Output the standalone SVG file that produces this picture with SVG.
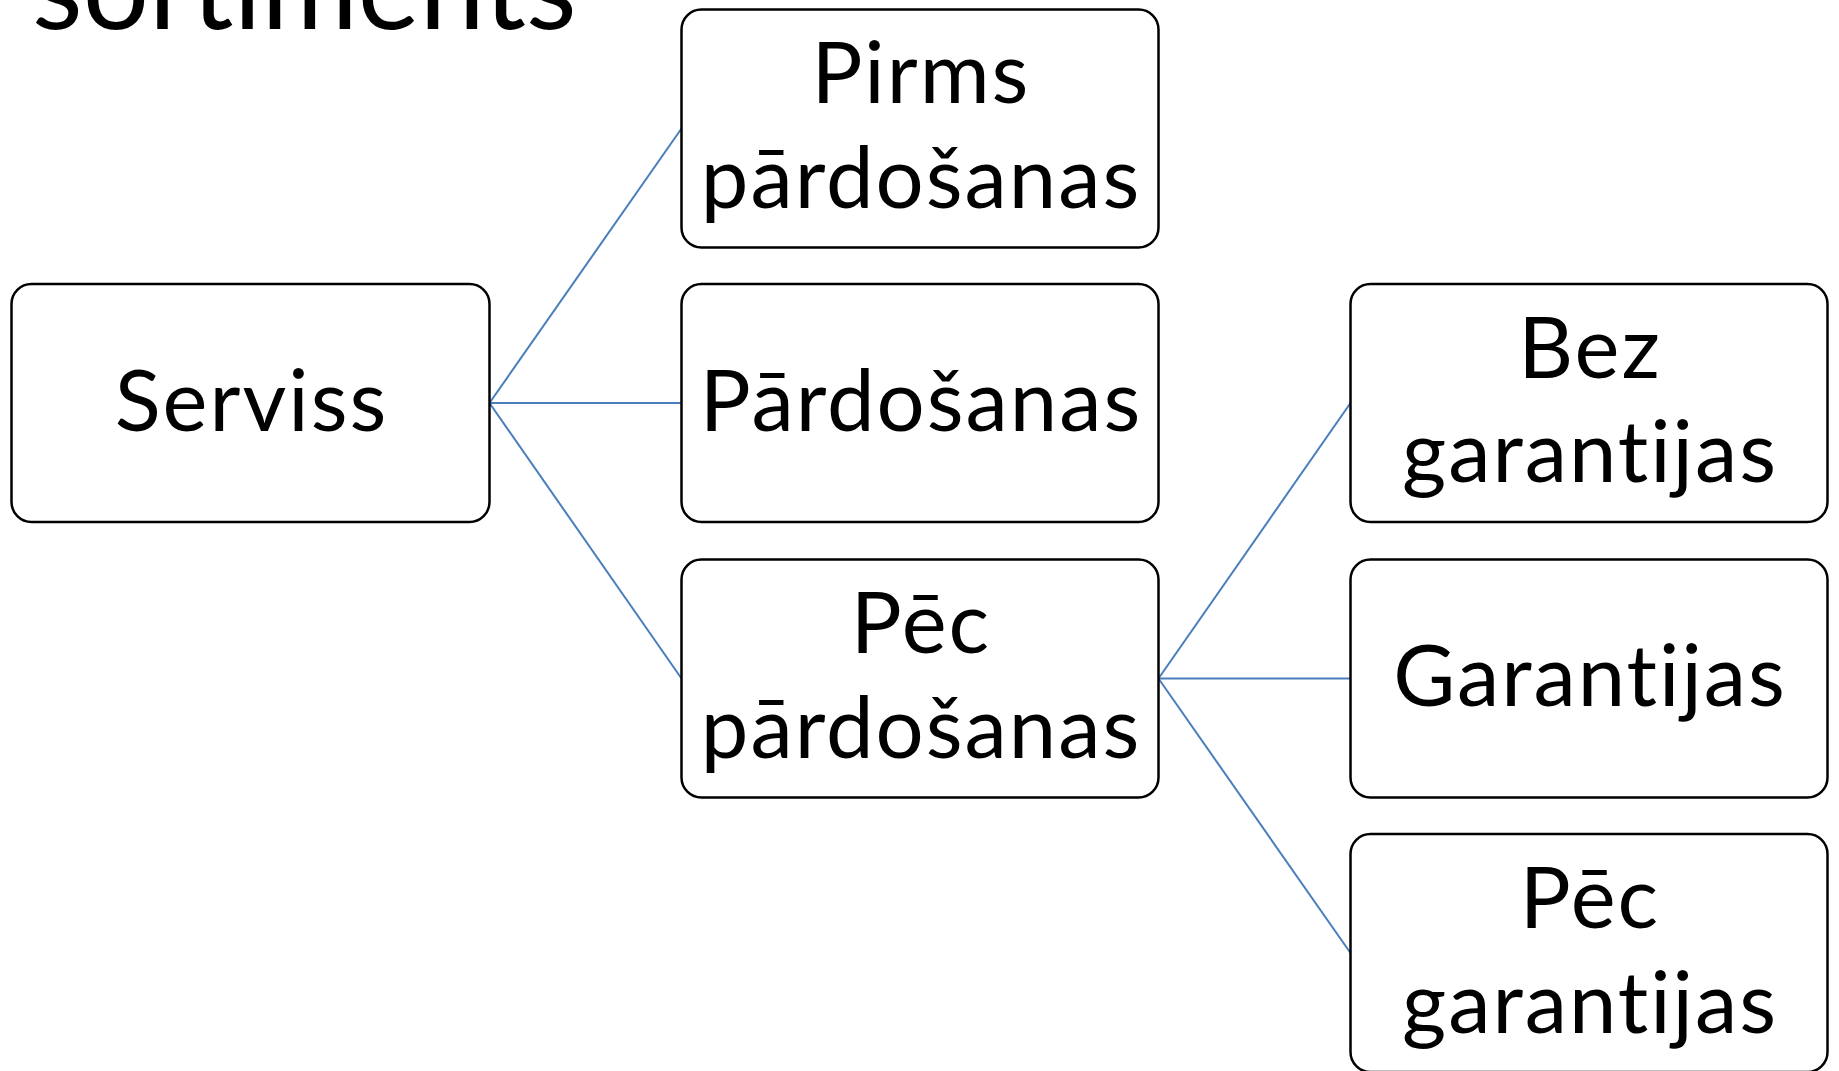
<svg xmlns="http://www.w3.org/2000/svg" width="1839" height="1071" viewBox="0 0 1839 1071">
  <style>
    .box { fill: #ffffff; stroke: #000000; stroke-width: 2.5; }
    .lbl { font-family: Lato, "Liberation Sans", sans-serif; font-size: 85px; letter-spacing: 2px; font-variant-ligatures: none; fill: #000000; text-anchor: middle; }
    .title { font-family: Lato, "Liberation Sans", sans-serif; font-size: 117px; font-variant-ligatures: none; fill: #000000; }
    .link { stroke: #4a7ebb; stroke-width: 2; fill: none; }
  </style>
  <rect width="1839" height="1071" fill="#ffffff"/>

  <!-- heading, mostly above the top edge -->
  <text class="title" x="32" y="29">sortiments</text>

  <!-- tree connectors -->
  <g id="connectors">
    <line class="link" x1="489.5" y1="403" x2="681.5" y2="128.5"/>
    <line class="link" x1="489.5" y1="403" x2="681.5" y2="403"/>
    <line class="link" x1="489.5" y1="403" x2="681.5" y2="678.5"/>
    <line class="link" x1="1158.5" y1="678.5" x2="1350.5" y2="403"/>
    <line class="link" x1="1158.5" y1="678.5" x2="1350.5" y2="678.5"/>
    <line class="link" x1="1158.5" y1="678.5" x2="1350.5" y2="953"/>
  </g>

  <g id="serviss">
    <rect class="box" x="11.5" y="284" width="478" height="238" rx="20"/>
    <text class="lbl" x="251.5" y="431">Serviss</text>
  </g>

  <g id="pirms-pardosanas">
    <rect class="box" x="681.5" y="9.5" width="477" height="238" rx="20"/>
    <text class="lbl" x="921" y="103">Pirms</text>
    <text class="lbl" x="921" y="208">pārdošanas</text>
  </g>

  <g id="pardosanas">
    <rect class="box" x="681.5" y="284" width="477" height="238" rx="20"/>
    <text class="lbl" x="921" y="431">Pārdošanas</text>
  </g>

  <g id="pec-pardosanas">
    <rect class="box" x="681.5" y="559.5" width="477" height="238" rx="20"/>
    <text class="lbl" x="921" y="653">Pēc</text>
    <text class="lbl" x="921" y="758">pārdošanas</text>
  </g>

  <g id="bez-garantijas">
    <rect class="box" x="1350.5" y="284" width="477" height="238" rx="20"/>
    <text class="lbl" x="1590" y="378">Bez</text>
    <text class="lbl" x="1590" y="482">garantijas</text>
  </g>

  <g id="garantijas">
    <rect class="box" x="1350.5" y="559.5" width="477" height="238" rx="20"/>
    <text class="lbl" x="1590" y="706">Garantijas</text>
  </g>

  <g id="pec-garantijas">
    <rect class="box" x="1350.5" y="834" width="477" height="238" rx="20"/>
    <text class="lbl" x="1590" y="928">Pēc</text>
    <text class="lbl" x="1590" y="1033">garantijas</text>
  </g>
</svg>
